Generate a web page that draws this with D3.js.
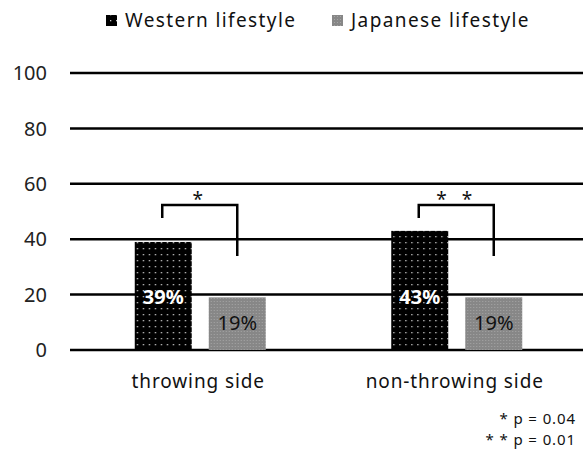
<!DOCTYPE html>
<html><head><meta charset="utf-8">
<script src="https://cdn.jsdelivr.net/npm/d3@7"></script>
<style>
body{margin:0;background:#fff;}
svg{display:block;font-family:"Noto Sans","Noto Sans CJK JP",sans-serif;}
</style></head>
<body><svg id="c" width="583" height="452"></svg>
<script>
const categories = ["throwing side", "non-throwing side"];
const seriesNames = ["Western lifestyle", "Japanese lifestyle"];
const western = [39, 43];
const japanese = [19, 19];
const yTicks = [0, 20, 40, 60, 80, 100];
const sigMarks = ["*", "*   *"];
const footnotes = ["* p = 0.04", "* * p = 0.01"];

const svg = d3.select("#c");
const defs = svg.append("defs");
const pw = defs.append("pattern").attr("id","pw").attr("patternUnits","userSpaceOnUse").attr("width",6).attr("height",6);
pw.append("rect").attr("width",6).attr("height",6).attr("fill","#000");
pw.append("rect").attr("x",2).attr("y",2).attr("width",1.3).attr("height",1.3).attr("fill","#ccc");
const pj = defs.append("pattern").attr("id","pj").attr("patternUnits","userSpaceOnUse").attr("width",3).attr("height",3);
pj.append("rect").attr("width",3).attr("height",3).attr("fill","#878787");
pj.append("rect").attr("x",1).attr("y",1).attr("width",1).attr("height",1).attr("fill","#a5a5a5");

const x0 = d3.scaleBand().domain(categories).range([70, 583]).paddingInner(0).paddingOuter(0);
const y = d3.scaleLinear().domain([0, 100]).range([350, 73]);
const x1 = d3.scaleBand().domain(seriesNames).range([0, 131]).paddingInner(0.23).paddingOuter(0);
const groupOff = (x0.bandwidth() - 131) / 2 + 2;

// gridlines
svg.append("g").selectAll("line").data(yTicks).join("line")
  .attr("x1",70).attr("x2",583).attr("y1",d=>y(d)).attr("y2",d=>y(d))
  .attr("stroke","#000").attr("stroke-width",2.5);

// y labels
svg.append("g").selectAll("text").data(yTicks).join("text")
  .attr("x",47).attr("y",d=>y(d)).attr("dy","0.36em").attr("text-anchor","end")
  .attr("font-size",20).attr("fill","#222").text(d=>d);

const data = categories.map((c,i)=>({cat:c, vals:[{s:seriesNames[0], v:western[i]},{s:seriesNames[1], v:japanese[i]}]}));
const groups = svg.append("g").selectAll("g").data(data).join("g")
  .attr("transform",d=>`translate(${x0(d.cat)+groupOff},0)`);
groups.selectAll("rect").data(d=>d.vals).join("rect")
  .attr("x",d=>x1(d.s)).attr("width",x1.bandwidth())
  .attr("y",d=>y(d.v)).attr("height",d=>y(0)-y(d.v))
  .attr("fill",(d,i)=>i===0?"url(#pw)":"url(#pj)");
groups.selectAll("text.val").data(d=>d.vals).join("text").attr("class","val")
  .attr("x",d=>x1(d.s)+x1.bandwidth()/2)
  .attr("y",(d,i)=>i===0?297:323).attr("dy","0.36em").attr("text-anchor","middle")
  .attr("font-size",20).attr("font-weight",(d,i)=>i===0?"bold":"normal")
  .attr("fill",(d,i)=>i===0?"#fff":"#111").text(d=>d.v+"%");

// significance brackets
groups.each(function(d,i){
  const g = d3.select(this);
  const xl = x1(seriesNames[0]) + x1.bandwidth()/2 - 1;
  const xr = x1(seriesNames[1]) + x1.bandwidth()/2;
  g.append("path").attr("d",`M${xl},218 V205 H${xr} V256`)
    .attr("fill","none").attr("stroke","#000").attr("stroke-width",2.5);
  g.append("text").attr("x",(xl+xr)/2 - 2).attr("y",196).attr("dy","0.5em").attr("text-anchor","middle")
    .attr("font-size",19).attr("fill","#111").attr("xml:space","preserve")
    .text(sigMarks[i]);
});

// category labels
svg.append("g").selectAll("text").data(categories).join("text")
  .attr("x",d=>x0(d)+x0.bandwidth()/2).attr("y",381).attr("dy","0.36em").attr("text-anchor","middle")
  .attr("font-size",19).attr("letter-spacing",0.9).attr("fill","#111").text(d=>d);

// legend
const leg = [{n:seriesNames[0],f:"url(#pw)",x:106},{n:seriesNames[1],f:"url(#pj)",x:332}];
const lg = svg.append("g").selectAll("g").data(leg).join("g");
lg.append("rect").attr("x",d=>d.x).attr("y",15).attr("width",11).attr("height",11).attr("fill",d=>d.f);
lg.append("text").attr("x",d=>d.x+19).attr("y",20).attr("dy","0.36em").attr("font-size",19).attr("letter-spacing",1.4).attr("fill","#111").text(d=>d.n);

// footnotes
svg.append("g").selectAll("text").data(footnotes).join("text")
  .attr("x",576).attr("y",(d,i)=>419+i*21).attr("dy","0.36em").attr("text-anchor","end")
  .attr("font-size",15).attr("letter-spacing",0.9).attr("fill","#111").attr("xml:space","preserve").text(d=>d);
</script></body></html>
